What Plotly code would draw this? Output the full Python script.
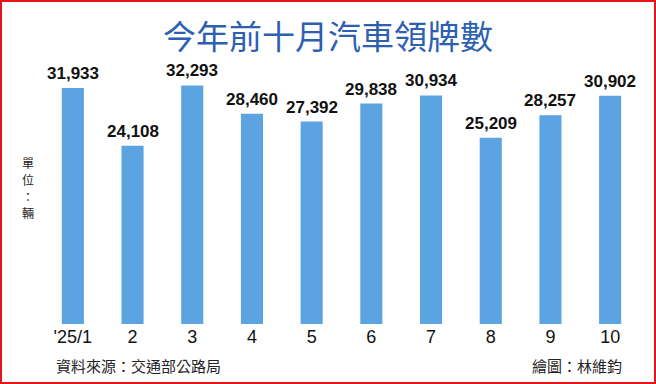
import plotly.graph_objects as go

months = ["'25/1", "2", "3", "4", "5", "6", "7", "8", "9", "10"]
values = [31933, 24108, 32293, 28460, 27392, 29838, 30934, 25209, 28257, 30902]
title_text = "今年前十月汽車領牌數"
unit_chars = ["單", "位", "：", "輛"]
unit_y = [162, 179, 196, 213]
source_text = "資料來源：交通部公路局"
credit_text = "繪圖：林維鈞"

W, H = 656, 384
L, R, T, B = 43, 16, 58, 60
PW = W - L - R
PH = H - T - B

def px(x):
    return (x - L) / PW

def py(y):
    return (H - B - y) / PH

CJK = "Noto Sans CJK TC, Noto Sans CJK SC, sans-serif"
NUM = "Liberation Sans, Arial, sans-serif"

fig = go.Figure()
fig.add_trace(go.Bar(
    x=list(range(len(months))), y=values,
    marker=dict(color="#5BA3E1", line=dict(width=0)),
    hoverinfo="skip",
))

annotations = []
for i, v in enumerate(values):
    annotations.append(dict(
        x=i, y=v, xref="x", yref="y",
        text=f"<b>{v:,}</b>", showarrow=False,
        yanchor="bottom", yshift=3,
        font=dict(family=NUM, size=17, color="#111111"),
    ))

annotations.append(dict(
    x=px(328), y=py(35), xref="paper", yref="paper", text=title_text,
    showarrow=False, xanchor="center", yanchor="middle",
    font=dict(family=CJK, size=33, color="#2D61B0")))
for ch, yy in zip(unit_chars, unit_y):
    annotations.append(dict(
        x=px(28), y=py(yy), xref="paper", yref="paper", text=ch,
        showarrow=False, xanchor="center", yanchor="middle",
        font=dict(family=CJK, size=12, color="#222222")))
annotations += [
    dict(x=px(54), y=py(365), xref="paper", yref="paper", text=source_text,
         showarrow=False, xanchor="left", yanchor="middle",
         font=dict(family=CJK, size=15, color="#222222")),
    dict(x=px(624), y=py(365), xref="paper", yref="paper", text=credit_text,
         showarrow=False, xanchor="right", yanchor="middle",
         font=dict(family=CJK, size=15, color="#222222")),
]

shapes = [dict(
    type="rect", xref="paper", yref="paper",
    x0=px(1), x1=px(655), y0=py(383), y1=py(1),
    line=dict(color="#E8141B", width=2), fillcolor="rgba(0,0,0,0)", layer="above",
)]

fig.update_layout(
    width=W, height=H,
    margin=dict(l=L, r=R, t=T, b=B),
    paper_bgcolor="white", plot_bgcolor="white",
    bargap=0.63,
    showlegend=False,
    xaxis=dict(
        range=[-0.5, len(months) - 0.5],
        tickmode="array", tickvals=list(range(len(months))), ticktext=months,
        showgrid=False, zeroline=False, showline=False,
        ticks="", tickfont=dict(family=NUM, size=18, color="#111111"),
    ),
    yaxis=dict(
        range=[0, 36000], visible=False, showgrid=False, zeroline=False,
    ),
    annotations=annotations,
    shapes=shapes,
)

fig.write_html("out.html", config={"displayModeBar": False},
               post_script="document.body.style.margin='0';")
